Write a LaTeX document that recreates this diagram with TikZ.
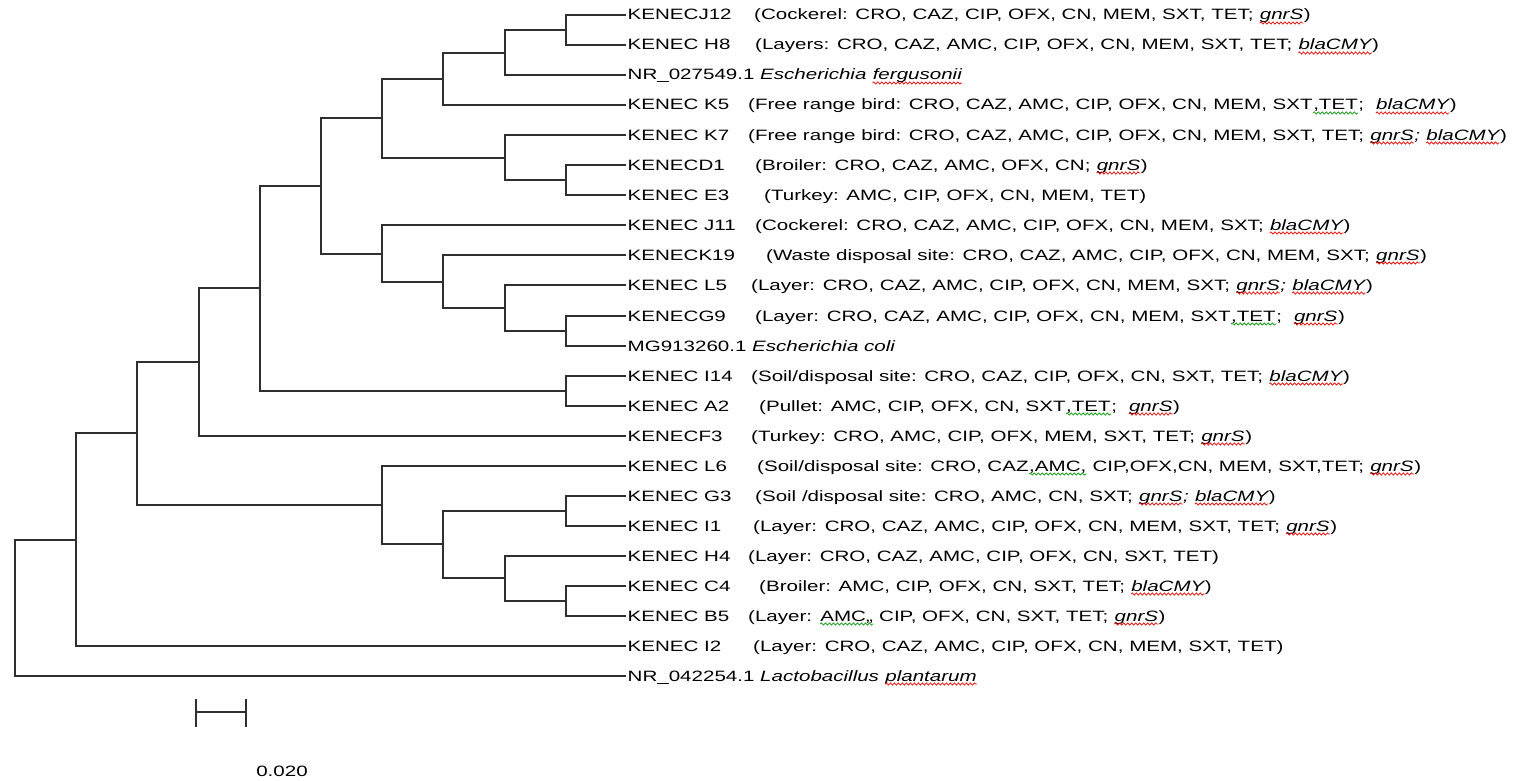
\documentclass[tikz,border=0pt]{standalone}
\usepackage{fontspec}
\setmainfont{Liberation Sans}[FakeStretch=1.37]
\usepackage{tikz}
\usetikzlibrary{decorations.pathmorphing}
\definecolor{treeline}{HTML}{2F2F2F}
\definecolor{spellred}{HTML}{E8130F}
\definecolor{spellgreen}{HTML}{1FA01F}
\tikzset{squiggle/.style={line width=0.8pt, decorate,
    decoration={snake, amplitude=1.1pt, segment length=4pt}}}
\newcommand\wavy[2]{\tikz[baseline=(w.base)]{%
    \node[inner sep=0pt, anchor=base] (w) at (0,0) {#2};
    \draw[squiggle, #1] ([yshift=-3pt]w.base west) -- ([yshift=-3pt]w.base east);}}
\newcommand\redwave[1]{\wavy{spellred}{#1}}
\newcommand\greenwave[1]{\wavy{spellgreen}{#1}}
\newcommand\gnrs{\redwave{\itshape gnrS}}
\newcommand\blacmy{\redwave{\itshape blaCMY}}

\begin{document}
\begin{tikzpicture}[x=1pt, y=-1pt, font=\fontsize{15}{18}\selectfont,
    branch/.style={line width=1.6pt, treeline},
    leaflabel/.style={anchor=base west, inner sep=0pt}]
    \useasboundingbox (0,0) rectangle (1528,781);
    %% --- leaf tips, one per row ---
    \foreach \i in {1,...,23} {
      \coordinate (l\i) at (626, {round(15+30.05*(\i-1))});
    }
    %% --- inner nodes (x on levels of about 61) ---
    \coordinate (A) at (566, 30);
    \coordinate (B) at (505, 53);
    \coordinate (C) at (443, 79);
    \coordinate (DE) at (566, 180);
    \coordinate (D) at (505, 158);
    \coordinate (E) at (382, 118);
    \coordinate (J) at (566, 331);
    \coordinate (I) at (505, 308);
    \coordinate (H) at (443, 282);
    \coordinate (G) at (382, 254);
    \coordinate (F) at (321, 186);
    \coordinate (L) at (566, 391);
    \coordinate (K) at (260, 288);
    \coordinate (M) at (199, 362);
    \coordinate (Q) at (566, 511);
    \coordinate (S) at (566, 601);
    \coordinate (R) at (505, 578);
    \coordinate (P) at (443, 544);
    \coordinate (O) at (382, 505);
    \coordinate (N) at (137, 433);
    \coordinate (T) at (76, 540);
    \coordinate (root) at (15, 608);
    %% --- branches ---
    \foreach \p/\c in {A/l1, A/l2, B/A, B/l3, C/B, C/l4, DE/l6, DE/l7, D/l5, D/DE,
        E/C, E/D, J/l11, J/l12, I/l10, I/J, H/l9, H/I, G/l8, G/H, F/E, F/G,
        L/l13, L/l14, K/F, K/L, M/K, M/l15, Q/l17, Q/l18, S/l20, S/l21,
        R/l19, R/S, P/Q, P/R, O/l16, O/P, N/M, N/O, T/N, T/l22, root/T, root/l23} {
      \draw[branch] (\p) |- (\c);
    }
    %% --- isolates: name, then source and resistance profile ---
    \foreach \i/\nm/\px/\nt in {
        1/KENECJ12/754/{(Cockerel: CRO, CAZ, CIP, OFX, CN, MEM, SXT, TET; \gnrs)},
        2/KENEC H8/755/{(Layers: CRO, CAZ, AMC, CIP, OFX, CN, MEM, SXT, TET; \blacmy)},
        4/KENEC K5/748/{(Free range bird: CRO, CAZ, AMC, CIP, OFX, CN, MEM, SXT\greenwave{,TET};\ \ \blacmy)},
        5/KENEC K7/748/{(Free range bird: CRO, CAZ, AMC, CIP, OFX, CN, MEM, SXT, TET; \gnrs{\itshape;} \blacmy)},
        6/KENECD1/755/{(Broiler: CRO, CAZ, AMC, OFX, CN; \gnrs)},
        7/KENEC E3/764/{(Turkey: AMC, CIP, OFX, CN, MEM, TET)},
        8/KENEC J11/755/{(Cockerel: CRO, CAZ, AMC, CIP, OFX, CN, MEM, SXT; \blacmy)},
        9/KENECK19/766/{(Waste disposal site: CRO, CAZ, AMC, CIP, OFX, CN, MEM, SXT; \gnrs)},
        10/KENEC L5/751/{(Layer: CRO, CAZ, AMC, CIP, OFX, CN, MEM, SXT; \gnrs{\itshape;} \blacmy)},
        11/KENECG9/755/{(Layer: CRO, CAZ, AMC, CIP, OFX, CN, MEM, SXT\greenwave{,TET};\ \ \gnrs)},
        13/KENEC I14/751/{(Soil/disposal site: CRO, CAZ, CIP, OFX, CN, SXT, TET; \blacmy)},
        14/KENEC A2/759/{(Pullet: AMC, CIP, OFX, CN, SXT\greenwave{,TET};\ \ \gnrs)},
        15/KENECF3/751/{(Turkey: CRO, AMC, CIP, OFX, MEM, SXT, TET; \gnrs)},
        16/KENEC L6/757/{(Soil/disposal site: CRO, CAZ\greenwave{,AMC,} CIP,OFX,CN, MEM, SXT,TET; \gnrs)},
        17/KENEC G3/755/{(Soil /disposal site: CRO, AMC, CN, SXT; \gnrs{\itshape;} \blacmy)},
        18/KENEC I1/753/{(Layer: CRO, CAZ, AMC, CIP, OFX, CN, MEM, SXT, TET; \gnrs)},
        19/KENEC H4/748/{(Layer: CRO, CAZ, AMC, CIP, OFX, CN, SXT, TET)},
        20/KENEC C4/759/{(Broiler: AMC, CIP, OFX, CN, SXT, TET; \blacmy)},
        21/KENEC B5/748/{(Layer: \greenwave{AMC,,} CIP, OFX, CN, SXT, TET; \gnrs)},
        22/KENEC I2/753/{(Layer: CRO, CAZ, AMC, CIP, OFX, CN, MEM, SXT, TET)}} {
      \path (l\i) ++(1.5,5) node[leaflabel] (n\i) {\nm};
      \path (l\i) ++({\px-626},5) node[leaflabel] (t\i) {\nt};
    }
    %% --- reference strains ---
    \path (l3) ++(1.5,5) node[leaflabel] (n3)
      {NR\_027549.1 \textit{Escherichia} \redwave{\itshape fergusonii}};
    \path (l12) ++(1.5,5) node[leaflabel] (n12)
      {MG913260.1 \textit{Escherichia coli}};
    \path (l23) ++(1.5,5) node[leaflabel] (n23)
      {NR\_042254.1 \textit{Lactobacillus} \redwave{\itshape plantarum}};
    %% --- scale bar ---
    \draw[branch] (196,699) -- (196,727) (196,712) -- (246,712) (246,699) -- (246,727);
    \node[anchor=base, inner sep=0pt] (scale) at (282,776) {0.020};
\end{tikzpicture}
\end{document}
